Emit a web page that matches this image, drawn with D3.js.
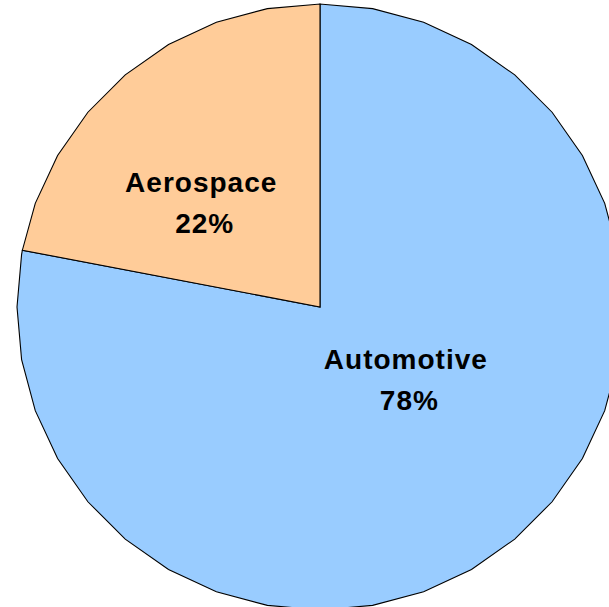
<!DOCTYPE html>
<html>
<head>
<meta charset="utf-8">
<script src="https://cdn.jsdelivr.net/npm/d3@7"></script>
<style>
  html, body { margin: 0; padding: 0; background: #fff; }
  svg { display: block; }
</style>
</head>
<body>
<svg id="chart" width="609" height="607"></svg>
<script>
// Share of work by sector
const categories = ["Automotive", "Aerospace"];
const values = [78, 22];
const colors = ["#99ccff", "#ffcc99"];

const W = 609, H = 607;
const cx = 320, cy = 307, R = 303;
const svg = d3.select("#chart");
const g = svg.append("g").attr("transform", `translate(${cx},${cy})`);

const data = categories.map((c, i) => ({ name: c, value: values[i], color: colors[i] }));
const pie = d3.pie().value(d => d.value).sort(null);
const arcs = pie(data);

// Faceted outline: rim sampled at a fixed angular step, plus the slice edges
const step = Math.PI * 2 / 36;
function slicePath(a) {
  const pts = [[0, 0]];
  const angles = [a.startAngle];
  let t = Math.ceil(a.startAngle / step + 1e-9) * step;
  while (t < a.endAngle - 1e-9) { angles.push(t); t += step; }
  angles.push(a.endAngle);
  angles.forEach(an => pts.push([R * Math.sin(an), -R * Math.cos(an)]));
  return d3.line()(pts) + "Z";
}

g.selectAll("path.slice")
  .data(arcs)
  .join("path")
  .attr("class", "slice")
  .attr("d", slicePath)
  .attr("fill", d => d.data.color)
  .attr("stroke", "#000")
  .attr("stroke-width", 1.1)
  .attr("stroke-linejoin", "miter");

// Labels placed along each slice's bisector
const labelRadius = { Automotive: 122, Aerospace: 149 };
const labelTurn = { Automotive: -0.107, Aerospace: -0.215 };
const fmt = d => Math.round(d.value / d3.sum(values) * 100) + "%";

const labels = g.selectAll("text.lbl")
  .data(arcs)
  .join("text")
  .attr("class", "lbl")
  .attr("text-anchor", "middle")
  .attr("font-family", "'Liberation Sans', Arial, sans-serif")
  .attr("font-weight", "bold")
  .attr("font-size", 28)
  .attr("letter-spacing", 1)
  .attr("fill", "#000")
  .attr("transform", d => {
    const mid = (d.startAngle + d.endAngle) / 2 + labelTurn[d.data.name];
    const r = labelRadius[d.data.name];
    return `translate(${r * Math.sin(mid)},${-r * Math.cos(mid)})`;
  });

labels.append("tspan").attr("x", -1.5).attr("y", -23).text(d => d.data.name);
labels.append("tspan").attr("x", 2).attr("y", 18).text(d => fmt(d));
</script>
</body>
</html>
